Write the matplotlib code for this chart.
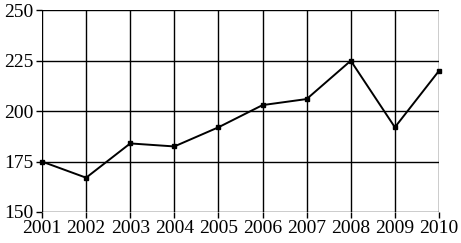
import matplotlib
matplotlib.use("Agg")
import matplotlib.pyplot as plt

years = [2001, 2002, 2003, 2004, 2005, 2006, 2007, 2008, 2009, 2010]
values = [175, 167, 184, 182.5, 192, 203, 206, 225, 192, 220]
y_ticks = [150, 175, 200, 225, 250]

plt.rcParams['font.family'] = ['Liberation Serif', 'DejaVu Serif']

fig = plt.figure(figsize=(4.61, 2.43), dpi=100)
ax = fig.add_axes([42/461, 1 - 212/243, (439 - 42)/461, (212 - 10.3)/243])
ax.set_xlim(years[0], years[-1])
ax.set_ylim(y_ticks[0], y_ticks[-1])
ax.set_xticks(years)
ax.set_yticks(y_ticks)
ax.grid(True, color='black', linewidth=1.0)
ax.set_axisbelow(True)
for s in ax.spines.values():
    s.set_visible(False)
ax.plot(years, values, color='black', linewidth=1.4, marker='s', markersize=3.5, clip_on=False, zorder=3)
ax.tick_params(axis='both', length=4, width=1, color='black', labelsize=14)
ax.tick_params(axis='y', pad=2)
ax.tick_params(axis='x', pad=2)
fig.savefig('out.png', dpi=100)
